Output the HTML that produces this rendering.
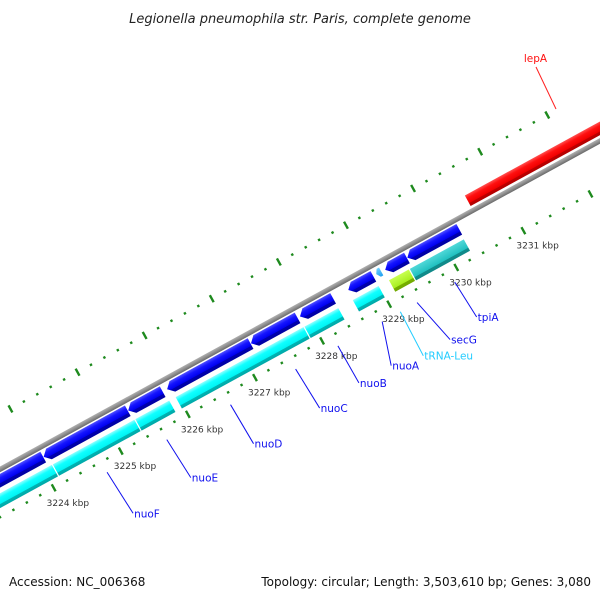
<!DOCTYPE html>
<html><head><meta charset="utf-8"><style>
html,body{margin:0;padding:0;background:#fff}
svg{display:block;font-family:"DejaVu Sans","Liberation Sans",sans-serif}
</style></head><body>
<svg id="chart" width="600" height="600" viewBox="0 0 600 600" xmlns="http://www.w3.org/2000/svg">
<defs>
<linearGradient id="gBlue" x1="0" y1="0" x2="0" y2="1"><stop offset="0" stop-color="#5050ff"/><stop offset="0.3" stop-color="#1515ff"/><stop offset="0.68" stop-color="#0000f0"/><stop offset="0.7" stop-color="#0000b0"/><stop offset="1" stop-color="#0000a0"/></linearGradient>
<linearGradient id="gCyan" x1="0" y1="0" x2="0" y2="1"><stop offset="0" stop-color="#90ffff"/><stop offset="0.3" stop-color="#10ffff"/><stop offset="0.72" stop-color="#00f4f4"/><stop offset="0.74" stop-color="#00b4b4"/><stop offset="1" stop-color="#00a8a8"/></linearGradient>
<linearGradient id="gTeal" x1="0" y1="0" x2="0" y2="1"><stop offset="0" stop-color="#50d8d8"/><stop offset="0.72" stop-color="#20c0c0"/><stop offset="0.74" stop-color="#108c8c"/><stop offset="1" stop-color="#108888"/></linearGradient>
<linearGradient id="gLime" x1="0" y1="0" x2="0" y2="1"><stop offset="0" stop-color="#c8ff50"/><stop offset="0.72" stop-color="#a8ee20"/><stop offset="0.74" stop-color="#78b000"/><stop offset="1" stop-color="#70a800"/></linearGradient>
<linearGradient id="gSky" x1="0" y1="0" x2="0" y2="1"><stop offset="0" stop-color="#70d0ff"/><stop offset="1" stop-color="#20a0f0"/></linearGradient>
<linearGradient id="gRed" x1="0" y1="0" x2="0" y2="1"><stop offset="0" stop-color="#ff5050"/><stop offset="0.3" stop-color="#ff1010"/><stop offset="0.72" stop-color="#f00000"/><stop offset="0.74" stop-color="#c00000"/><stop offset="1" stop-color="#b00000"/></linearGradient>
<linearGradient id="gGray" x1="0" y1="0" x2="0" y2="1"><stop offset="0" stop-color="#b0b0b0"/><stop offset="0.5" stop-color="#909090"/><stop offset="1" stop-color="#6a6a6a"/></linearGradient>
</defs>
<text x="300" y="23" text-anchor="middle" font-size="13" font-style="italic" fill="#222">Legionella pneumophila str. Paris, complete genome</text>
<g id="rot"></g>
<g id="over"></g>
<text x="9" y="586" font-size="12" fill="#111">Accession: NC_006368</text>
<text x="591" y="586" text-anchor="end" font-size="12" fill="#111">Topology: circular; Length: 3,503,610 bp; Genes: 3,080</text>
</svg>
<script>
// data (kbp)
const blueStarts = [3222.0, 3224.08, 3225.34, 3225.92, 3227.17, 3227.90, 3228.62, 3229.17, 3229.50];
const blueEnds   = [3224.08, 3225.34, 3225.86, 3227.17, 3227.87, 3228.40, 3229.00, 3229.50, 3230.28];
const trnaStart = 3229.04, trnaEnd = 3229.12;
const cyanStarts = [3222.0, 3224.13, 3225.36, 3225.96, 3227.88, 3228.60];
const cyanEnds   = [3224.13, 3225.36, 3225.88, 3227.88, 3228.40, 3229.00];
const limeStart = 3229.14, limeEnd = 3229.45;
const tealStart = 3229.45, tealEnd = 3230.27;
const redStart = 3230.55, redEnd = 3234.0;
const tickMin = 3222.8, tickMax = 3232.0;
const tickLabels = [3224, 3225, 3226, 3227, 3228, 3229, 3230, 3231];
const geneNames = ["nuoF","nuoE","nuoD","nuoC","nuoB","nuoA","tRNA-Leu","secG","tpiA"];
const geneMids  = [3224.71, 3225.60, 3226.55, 3227.52, 3228.15, 3228.81, 3229.08, 3229.33, 3229.89];

const NS = "http://www.w3.org/2000/svg";
const ANG = 28.7 * Math.PI / 180, C = Math.cos(ANG), S = Math.sin(ANG);
const OX = 33.5, OY = 451, K0 = 3224, PX = 76.5;
function xk(k){ return (k - K0) * PX; }
function toScreen(u, v){ return [OX + u*C + v*S, OY - u*S + v*C]; }
const rot = document.getElementById('rot');
rot.setAttribute('transform', `translate(${OX},${OY}) rotate(${-28.7})`);
const over = document.getElementById('over');
function mk(tag, attrs, parent){ const e = document.createElementNS(NS, tag); for (const k in attrs) e.setAttribute(k, attrs[k]); parent.appendChild(e); return e; }

// backbone
let bb = mk('rect', {x:-200, y:-2.5, width:1000, height:5, fill:'url(#gGray)'}, rot);



// red lepA
let red = mk('rect', {x:xk(redStart), y:-17, width:xk(redEnd)-xk(redStart), height:12, fill:'url(#gRed)'}, rot);



// blue row arrows (reverse strand)
function arrow(k0, k1, top, bot, fill, name){
  const x0 = xk(k0), x1 = xk(k1) - 0.5, h = Math.min(6, (x1-x0)/2), mid = (top+bot)/2;
  const p = mk('polygon', {points:`${x0},${mid} ${x0+h},${top} ${x1},${top} ${x1},${bot} ${x0+h},${bot}`, fill:fill}, rot);
  
  
}
for (let i = 0; i < blueStarts.length; i++) arrow(blueStarts[i], blueEnds[i], 4, 16, 'url(#gBlue)', 'gene-forward-' + i);
arrow(trnaStart, trnaEnd, 5, 14, 'url(#gSky)', 'gene-trna-leu');

function band(k0, k1, fill, name){
  const x0 = xk(k0) + 0.6, x1 = xk(k1) - 0.6;
  const r = mk('rect', {x:x0, y:21, width:x1-x0, height:13, fill:fill}, rot);
  
  
}
for (let i = 0; i < cyanStarts.length; i++) band(cyanStarts[i], cyanEnds[i], 'url(#gCyan)', 'gene-cog-' + i);
band(limeStart, limeEnd, 'url(#gLime)', 'gene-secG-cog');
band(tealStart, tealEnd, 'url(#gTeal)', 'gene-tpiA-cog');

// ticks
const nT = Math.round((tickMax - tickMin) / 0.2);
for (let i = 0; i <= nT; i++){
  const k = tickMin + i * 0.2;
  const major = Math.abs(k - Math.round(k)) < 0.01;
  for (const v of [-48, 42]){
    const t = major ? mk('rect', {x:xk(k)-1.2, y:v-4, width:2.4, height:8, fill:'#1e8a1e'}, rot)
                    : mk('rect', {x:xk(k)-1.2, y:v-1.2, width:2.4, height:2.4, fill:'#1e8a1e'}, rot);
    
    
  }
}
for (const k of tickLabels){
  const [sx, sy] = toScreen(xk(k), 42);
  const t = mk('text', {x:sx-7, y:sy+18, 'font-size':9, fill:'#333'}, over);
  t.textContent = k + ' kbp';
  
  
}

// gene labels
const labelDX = [26, 24, 23, 24, 21, 9, 23, 33, 22];
const labelDY = [41, 38, 39, 39, 37, 44, 44, 37, 35];
for (let i = 0; i < geneNames.length; i++){
  const [sx, sy] = toScreen(xk(geneMids[i]), 54);
  const col = geneNames[i] === 'tRNA-Leu' ? '#22ccff' : '#1010ee';
  const l = mk('line', {x1:sx, y1:sy, x2:sx+labelDX[i], y2:sy+labelDY[i], stroke:col, 'stroke-width':1}, over);
  
  
  const t = mk('text', {x:sx+labelDX[i]+1, y:sy+labelDY[i]+4, 'font-size':10.5, fill:col}, over);
  t.textContent = geneNames[i];
  
  
}
let ll = mk('line', {x1:556, y1:109, x2:536, y2:67, stroke:'#ff2020', 'stroke-width':1}, over);


let lt = mk('text', {x:535.5, y:62, 'text-anchor':'middle', 'font-size':10.5, fill:'#ff1010'}, over);
lt.textContent = 'lepA';


</script>
</body></html>
